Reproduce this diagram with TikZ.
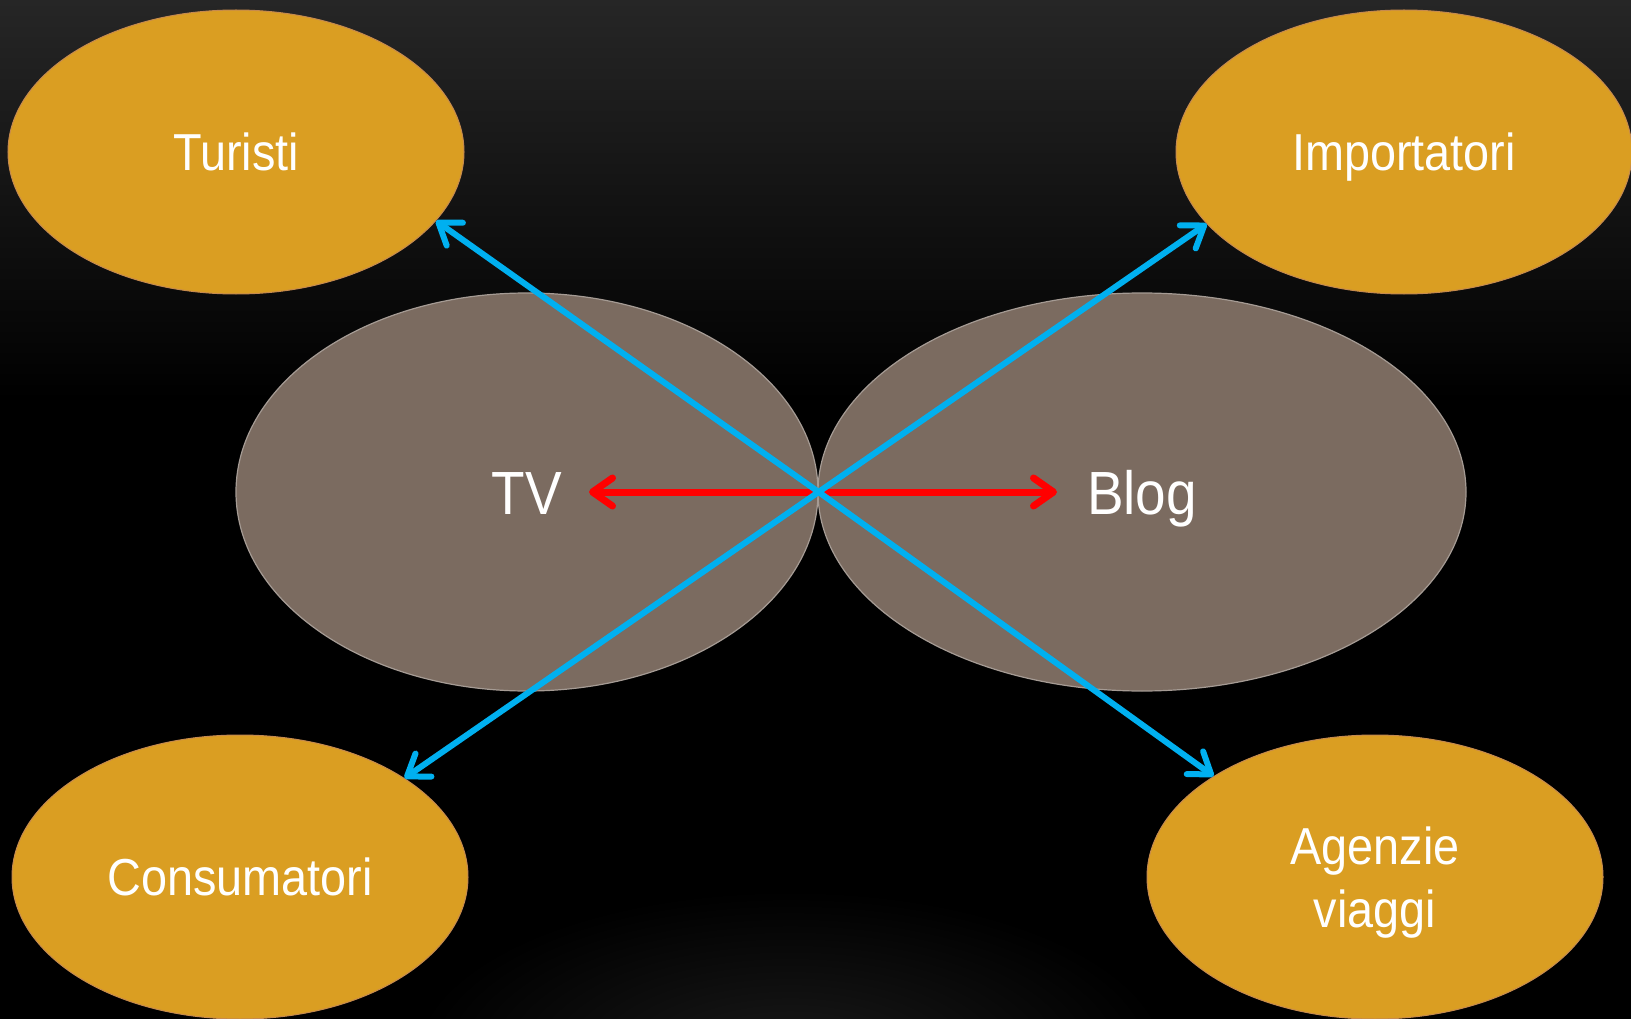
\documentclass[tikz,border=0pt]{standalone}
\usepackage{fontspec}
\setmainfont{Liberation Sans}[FakeStretch=0.9]
\usetikzlibrary{shapes.geometric,arrows.meta}
\definecolor{bgtop}{RGB}{38,38,38}
\definecolor{glow}{RGB}{26,26,26}
\definecolor{orangefill}{RGB}{218,158,34}
\definecolor{orangeedge}{RGB}{198,138,78}
\definecolor{greyfill}{RGB}{123,107,96}
\definecolor{greyedge}{RGB}{165,155,148}
\definecolor{arrowblue}{RGB}{0,176,240}
\definecolor{arrowred}{RGB}{255,0,0}
\tikzset{
  outerell/.style={ellipse, fill=orangefill, draw=orangeedge, line width=1pt,
    minimum width=456pt, minimum height=284pt, inner sep=0pt,
    text=white, font=\fontsize{52}{63}\selectfont, align=center,
    text height=37pt, text depth=0pt},
  midell/.style={ellipse, fill=greyfill, draw=greyedge, line width=1.2pt,
    minimum height=398pt, inner sep=0pt,
    text=white, font=\fontsize{61}{73}\selectfont,
    text height=44pt, text depth=0pt},
  bluearrow/.style={draw=arrowblue, line width=6pt,
    -{Straight Barb[length=20pt,width=28pt,round]}},
  redarrow/.style={draw=arrowred, line width=7pt,
    {Straight Barb[length=20pt,width=28pt,round]}-{Straight Barb[length=20pt,width=28pt,round]}}
}
\begin{document}
\begin{tikzpicture}[x=1pt,y=-1pt]
\useasboundingbox (0,0) rectangle (1631,1019);
% background
\fill[black] (0,0) rectangle (1631,1019);
\shade[top color=bgtop, bottom color=black] (0,0) rectangle (1631,400);
\begin{scope}
\clip (0,0) rectangle (1631,1019);
\shade[inner color=glow, outer color=black] (790,1060) ellipse [x radius=380, y radius=170];
\end{scope}
% outer ellipses
\node[outerell] (turisti) at (236,152) {Turisti};
\node[outerell] (importatori) at (1404,152) {Importatori};
\node[outerell] (consumatori) at (240,877) {Consumatori};
\node[outerell, text height=100pt, text depth=0pt] (agenzie) at (1375,877) {Agenzie\\viaggi};
% middle ellipses
\node[midell, minimum width=582pt] (tv) at (527,492) {TV};
\node[midell, minimum width=648pt] (blog) at (1142,492) {Blog};
% arrows
\coordinate (redL) at (589,492);
\coordinate (redR) at (1057,492);
\draw[redarrow] (redL) -- (redR);
\draw[bluearrow] (tv.east) -- (turisti.-19.2);
\draw[bluearrow] (tv.east) -- (importatori.-160.4);
\draw[bluearrow] (tv.east) -- (consumatori.31.4);
\draw[bluearrow] (tv.east) -- (agenzie.148.3);
\end{tikzpicture}
\end{document}
